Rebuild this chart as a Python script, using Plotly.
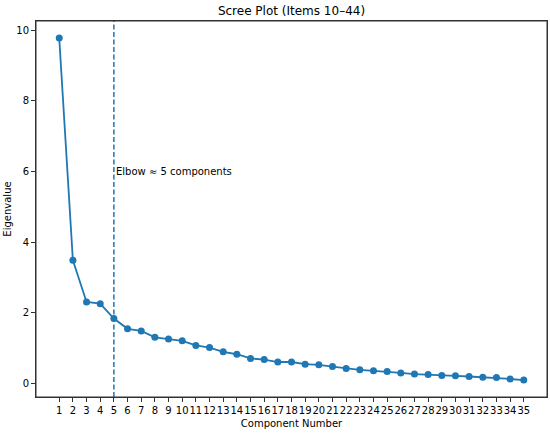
import plotly.graph_objects as go

components = list(range(1, 36))
eigenvalues = [9.78, 3.49, 2.31, 2.26, 1.84, 1.55, 1.49, 1.31, 1.26, 1.21,
               1.08, 1.02, 0.90, 0.83, 0.71, 0.68, 0.61, 0.61, 0.55, 0.53,
               0.48, 0.43, 0.39, 0.36, 0.34, 0.30, 0.27, 0.26, 0.23, 0.22,
               0.20, 0.18, 0.17, 0.13, 0.10]
elbow = 5
y_ticks = [0, 2, 4, 6, 8, 10]

blue = "#1f77b4"
font = "DejaVu Sans"
txt = dict(family=font, size=10, color="#000")

fig = go.Figure()
fig.add_trace(go.Scatter(
    x=components, y=eigenvalues, mode="lines+markers",
    line=dict(color=blue, width=1.8),
    marker=dict(color=blue, size=7),
    showlegend=False,
))

# elbow marker
fig.add_shape(type="line", x0=elbow, x1=elbow, y0=0, y1=1, yref="paper",
              line=dict(color=blue, width=1.5, dash="5px,2.5px"))
fig.add_annotation(x=elbow, y=6, text="Elbow ≈ 5 components",
                   showarrow=False, xanchor="left", yanchor="middle", font=txt)

# axes frame
fig.add_shape(type="rect", xref="paper", yref="paper", x0=0, x1=1, y0=0, y1=1,
              line=dict(color="#333", width=1))

fig.update_layout(
    width=550, height=433,
    margin=dict(l=36, r=3, t=21, b=36),
    paper_bgcolor="white", plot_bgcolor="white",
    title=dict(text="Scree Plot (Items 10–44)", x=0.53, xanchor="center",
               yref="container", y=1 - 11 / 433, yanchor="middle",
               font=dict(family=font, size=12, color="#000")),
    xaxis=dict(range=[-0.7, 36.7], tickmode="array", tickvals=components,
               tickangle=0, automargin=False,
               showline=True, mirror=True, linecolor="#333", linewidth=1,
               showgrid=False, zeroline=False, ticks="outside", ticklen=4,
               tickcolor="#333", tickfont=txt,
               title=dict(text="Component Number", standoff=4, font=txt)),
    yaxis=dict(range=[-0.38, 10.26], tickmode="array", tickvals=y_ticks,
               automargin=False,
               showline=True, mirror=True, linecolor="#333", linewidth=1,
               showgrid=False, zeroline=False, ticks="outside", ticklen=4,
               tickcolor="#333", tickfont=txt,
               title=dict(text="Eigenvalue", standoff=2, font=txt)),
)

fig.write_html("out.html", config={"displayModeBar": False},
               post_script="document.body.style.margin='0';")
